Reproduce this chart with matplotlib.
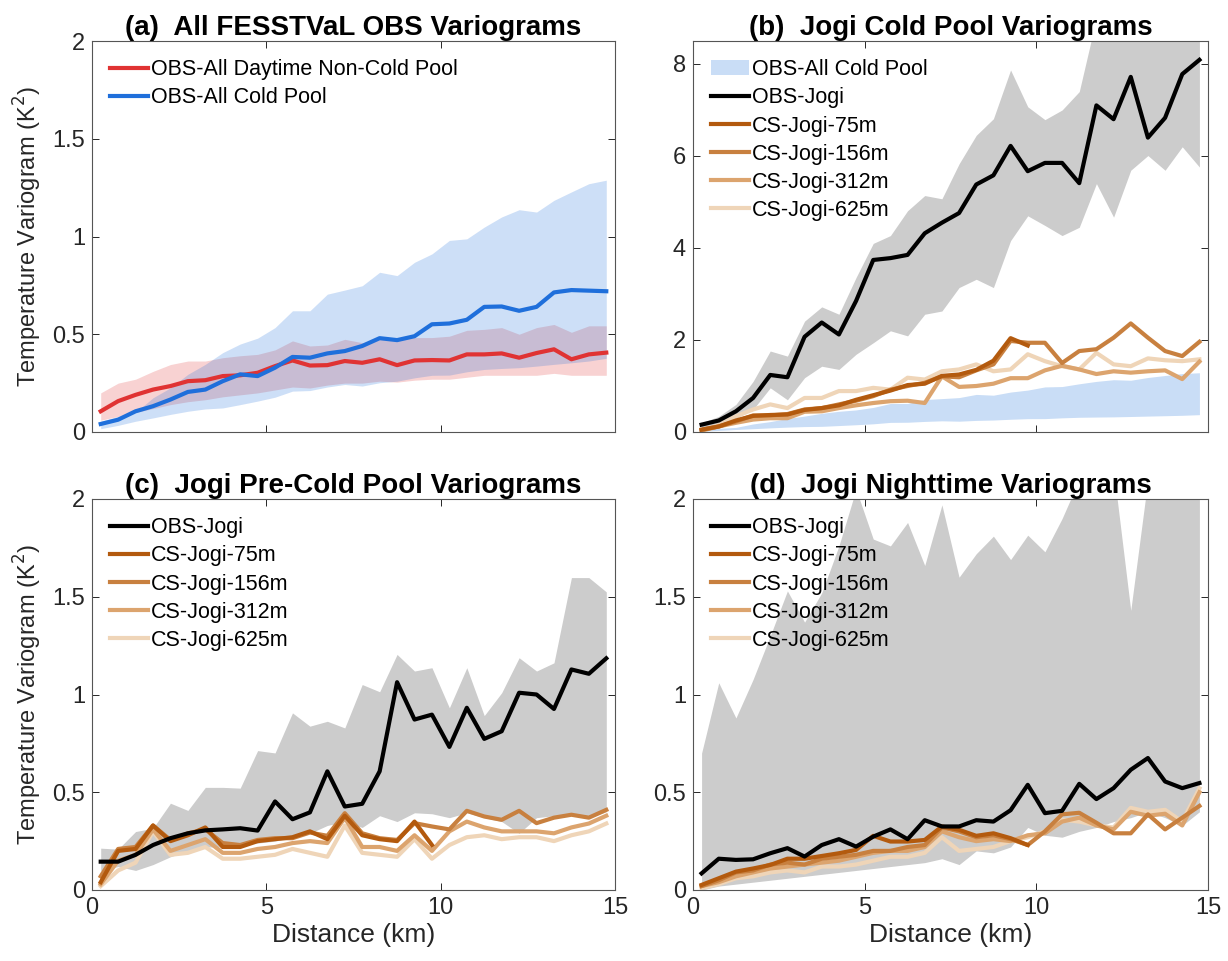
import numpy as np
import matplotlib
matplotlib.use("Agg")
import matplotlib.pyplot as plt
from matplotlib.patches import Patch
from matplotlib.lines import Line2D

plt.rcParams['font.family'] = ['Liberation Sans', 'DejaVu Sans']

# distance bins (km)
distance = [0.25, 0.75, 1.25, 1.75, 2.25, 2.75, 3.25, 3.75, 4.25, 4.75,
            5.25, 5.75, 6.25, 6.75, 7.25, 7.75, 8.25, 8.75, 9.25, 9.75,
            10.25, 10.75, 11.25, 11.75, 12.25, 12.75, 13.25, 13.75, 14.25, 14.75]

# ---------- panel (a) ----------
a_noncp = [0.106, 0.158, 0.19, 0.217, 0.235, 0.26, 0.265, 0.286, 0.29, 0.303,
           0.337, 0.366, 0.34, 0.342, 0.363, 0.354, 0.372, 0.342, 0.366, 0.368,
           0.366, 0.397, 0.397, 0.402, 0.38, 0.404, 0.423, 0.372, 0.397, 0.406]
a_noncp_hi = [0.2, 0.25, 0.27, 0.31, 0.345, 0.363, 0.363, 0.38, 0.39, 0.397,
              0.42, 0.466, 0.44, 0.445, 0.474, 0.457, 0.474, 0.483, 0.483, 0.483,
              0.49, 0.52, 0.525, 0.534, 0.5, 0.534, 0.55, 0.51, 0.543, 0.543]
a_noncp_lo = [0.06, 0.08, 0.1, 0.12, 0.14, 0.155, 0.165, 0.18, 0.19, 0.2,
              0.215, 0.23, 0.225, 0.24, 0.25, 0.25, 0.26, 0.255, 0.265, 0.27,
              0.27, 0.28, 0.29, 0.29, 0.29, 0.29, 0.3, 0.29, 0.29, 0.29]
a_cp = [0.041, 0.063, 0.106, 0.132, 0.166, 0.205, 0.217, 0.26, 0.295, 0.286,
        0.329, 0.384, 0.38, 0.402, 0.414, 0.44, 0.48, 0.47, 0.49, 0.551,
        0.555, 0.574, 0.64, 0.642, 0.62, 0.64, 0.714, 0.726, 0.723, 0.72]
a_cp_hi = [0.055, 0.08, 0.1, 0.175, 0.226, 0.295, 0.346, 0.406, 0.45, 0.48,
           0.534, 0.62, 0.62, 0.705, 0.726, 0.748, 0.817, 0.8, 0.868, 0.911,
           0.98, 0.988, 1.048, 1.1, 1.137, 1.125, 1.185, 1.228, 1.27, 1.288]
a_cp_lo = [0.017, 0.034, 0.055, 0.072, 0.09, 0.106, 0.118, 0.123, 0.14, 0.158,
           0.178, 0.209, 0.212, 0.23, 0.243, 0.235, 0.252, 0.26, 0.277, 0.29,
           0.291, 0.308, 0.32, 0.325, 0.329, 0.337, 0.346, 0.354, 0.363, 0.377]

# ---------- panel (b) ----------
b_obs = [0.16, 0.25, 0.45, 0.74, 1.24, 1.19, 2.07, 2.38, 2.12, 2.85,
         3.74, 3.78, 3.85, 4.32, 4.55, 4.76, 5.38, 5.58, 6.22, 5.67,
         5.85, 5.85, 5.41, 7.1, 6.8, 7.72, 6.4, 6.83, 7.78, 8.09]
b_obs_hi = [0.2, 0.34, 0.6, 1.1, 1.76, 1.65, 2.41, 2.72, 2.56, 3.36,
            4.1, 4.27, 4.81, 5.14, 5.07, 5.83, 6.45, 6.81, 7.87, 7.07,
            6.79, 7.0, 7.4, 9.0, 9.3, 9.6, 9.2, 9.5, 9.8, 10.0]
b_obs_lo = [0.1, 0.16, 0.3, 0.49, 0.96, 0.7, 1.18, 1.43, 1.36, 1.69,
            1.94, 2.2, 2.09, 2.56, 2.63, 3.14, 3.32, 3.14, 4.16, 4.7,
            4.49, 4.27, 4.45, 5.4, 4.67, 5.69, 6.01, 5.69, 6.2, 5.76]
b_cs75 = [0.05, 0.12, 0.25, 0.35, 0.37, 0.38, 0.48, 0.52, 0.58, 0.7,
          0.8, 0.9, 1.02, 1.05, 1.22, 1.25, 1.35, 1.55, 2.04, 1.88]
b_cs156 = [0.05, 0.12, 0.23, 0.36, 0.36, 0.39, 0.49, 0.52, 0.6, 0.68,
           0.78, 0.92, 1.0, 1.07, 1.21, 1.19, 1.34, 1.47, 1.98, 1.94,
           1.94, 1.5, 1.76, 1.8, 2.05, 2.36, 2.05, 1.76, 1.65, 1.96]
b_cs312 = [0.03, 0.12, 0.2, 0.27, 0.3, 0.3, 0.44, 0.45, 0.52, 0.58,
           0.63, 0.67, 0.68, 0.63, 1.21, 0.98, 1.0, 1.05, 1.17, 1.17,
           1.34, 1.44, 1.36, 1.26, 1.32, 1.29, 1.32, 1.34, 1.15, 1.53]
b_cs625 = [0.03, 0.15, 0.34, 0.49, 0.6, 0.52, 0.74, 0.74, 0.89, 0.89,
           0.96, 0.92, 1.18, 1.14, 1.32, 1.36, 1.47, 1.32, 1.36, 1.69,
           1.54, 1.43, 1.36, 1.72, 1.47, 1.43, 1.6, 1.56, 1.54, 1.58]

# ---------- panel (c) ----------
c_obs = [0.145, 0.145, 0.18, 0.23, 0.265, 0.29, 0.305, 0.31, 0.316, 0.304,
         0.453, 0.362, 0.397, 0.607, 0.427, 0.441, 0.607, 1.063, 0.872, 0.897,
         0.732, 0.932, 0.773, 0.812, 1.009, 1.0, 0.926, 1.128, 1.106, 1.185]
c_obs_hi = [0.214, 0.209, 0.299, 0.316, 0.444, 0.407, 0.525, 0.525, 0.521, 0.713,
            0.701, 0.906, 0.838, 0.863, 0.829, 1.051, 1.014, 1.205, 1.12, 1.137,
            0.932, 1.137, 0.892, 1.009, 1.188, 1.12, 1.162, 1.598, 1.598, 1.525]
c_obs_lo = [0.1, 0.12, 0.1, 0.13, 0.17, 0.2, 0.22, 0.22, 0.24, 0.24,
            0.25, 0.27, 0.29, 0.33, 0.35, 0.32, 0.38, 0.35, 0.395, 0.39,
            0.37, 0.395, 0.37, 0.35, 0.29, 0.37, 0.38, 0.38, 0.37, 0.4]
c_cs75 = [0.04, 0.2, 0.21, 0.33, 0.25, 0.28, 0.32, 0.22, 0.22, 0.25,
          0.26, 0.27, 0.3, 0.26, 0.38, 0.28, 0.26, 0.25, 0.35, 0.23]
c_cs156 = [0.07, 0.21, 0.22, 0.33, 0.256, 0.29, 0.31, 0.24, 0.23, 0.256,
           0.265, 0.265, 0.294, 0.277, 0.393, 0.29, 0.265, 0.256, 0.342, 0.325,
           0.31, 0.405, 0.376, 0.359, 0.405, 0.342, 0.37, 0.385, 0.37, 0.41]
c_cs312 = [0.03, 0.15, 0.18, 0.31, 0.2, 0.23, 0.26, 0.19, 0.19, 0.21,
           0.22, 0.24, 0.25, 0.24, 0.37, 0.22, 0.22, 0.2, 0.28, 0.2,
           0.3, 0.35, 0.32, 0.3, 0.3, 0.3, 0.29, 0.32, 0.34, 0.38]
c_cs625 = [0.02, 0.1, 0.14, 0.3, 0.18, 0.19, 0.22, 0.16, 0.16, 0.17,
           0.18, 0.21, 0.19, 0.17, 0.33, 0.19, 0.18, 0.17, 0.26, 0.16,
           0.23, 0.27, 0.28, 0.26, 0.27, 0.27, 0.25, 0.28, 0.3, 0.34]

# ---------- panel (d) ----------
d_obs = [0.085, 0.16, 0.154, 0.157, 0.188, 0.214, 0.171, 0.23, 0.26, 0.222,
         0.273, 0.31, 0.26, 0.357, 0.325, 0.325, 0.357, 0.35, 0.408, 0.538,
         0.393, 0.405, 0.543, 0.465, 0.521, 0.615, 0.675, 0.555, 0.521, 0.547]
d_obs_hi = [0.7, 1.06, 0.88, 1.077, 1.3, 1.53, 1.37, 1.52, 1.76, 2.05,
            1.795, 1.76, 1.88, 1.66, 1.97, 1.6, 1.72, 1.81, 1.69, 1.815,
            1.73, 1.9, 2.1, 2.2, 2.15, 1.43, 2.1, 2.5, 2.6, 2.6]
d_obs_lo = [0.0, 0.02, 0.03, 0.04, 0.05, 0.06, 0.07, 0.08, 0.09, 0.1,
            0.11, 0.12, 0.13, 0.14, 0.16, 0.13, 0.2, 0.19, 0.22, 0.32,
            0.28, 0.27, 0.3, 0.32, 0.35, 0.37, 0.4, 0.37, 0.33, 0.4]
d_cs75 = [0.026, 0.06, 0.094, 0.11, 0.128, 0.16, 0.16, 0.174, 0.188, 0.205,
          0.277, 0.248, 0.248, 0.256, 0.325, 0.308, 0.277, 0.29, 0.265, 0.23]
d_cs156 = [0.02, 0.05, 0.09, 0.1, 0.13, 0.14, 0.13, 0.16, 0.17, 0.18,
           0.2, 0.2, 0.22, 0.23, 0.32, 0.3, 0.27, 0.28, 0.26, 0.23,
           0.3, 0.387, 0.395, 0.344, 0.29, 0.29, 0.387, 0.31, 0.37, 0.43]
d_cs312 = [0.02, 0.04, 0.07, 0.09, 0.11, 0.12, 0.13, 0.14, 0.15, 0.17,
           0.19, 0.2, 0.2, 0.22, 0.3, 0.27, 0.25, 0.26, 0.25, 0.28,
           0.29, 0.35, 0.37, 0.33, 0.31, 0.4, 0.38, 0.39, 0.33, 0.5]
d_cs625 = [0.01, 0.03, 0.06, 0.07, 0.09, 0.1, 0.09, 0.12, 0.12, 0.13,
           0.15, 0.17, 0.17, 0.19, 0.27, 0.2, 0.21, 0.22, 0.25, 0.27,
           0.3, 0.36, 0.35, 0.33, 0.32, 0.42, 0.4, 0.41, 0.35, 0.52]

cs_labels = ['CS-Jogi-75m', 'CS-Jogi-156m', 'CS-Jogi-312m', 'CS-Jogi-625m']
titles = ['(a)  All FESSTVaL OBS Variograms', '(b)  Jogi Cold Pool Variograms',
          '(c)  Jogi Pre-Cold Pool Variograms', '(d)  Jogi Nighttime Variograms']

# ---------- styling ----------
RED = '#E03333'
BLUE = '#1F6FDB'
BLUE_FILL = '#C9DDF6'
GREY_FILL = '#CCCCCC'
CS_COLORS = ['#B35A0E', '#C8803F', '#DCA46E', '#EFD5B8']
LW = 3.0
TXT = '#262626'

fig = plt.figure(figsize=(12.28, 9.61), dpi=100)
W, H = 1228, 961
def pos(x0, x1, y0, y1):
    return [x0 / W, 1 - y1 / H, (x1 - x0) / W, (y1 - y0) / H]

axA = fig.add_axes(pos(92, 615, 41, 432))
axB = fig.add_axes(pos(693, 1208, 41, 432))
axC = fig.add_axes(pos(92, 615, 499, 890))
axD = fig.add_axes(pos(693, 1208, 499, 890))

def style(ax, ylim, yticks, yticklabels, show_x):
    ax.set_xlim(0, 15)
    ax.set_ylim(*ylim)
    ax.set_xticks([0, 5, 10, 15])
    ax.set_yticks(yticks)
    ax.set_yticklabels(yticklabels)
    ax.tick_params(direction='in', top=True, right=True, length=5, width=0.7,
                   labelsize=17, colors=TXT, pad=5)
    for s in ax.spines.values():
        s.set_linewidth(0.8)
        s.set_color('#555555')
    if show_x:
        ax.set_xlabel('Distance (km)', fontsize=19, color=TXT, labelpad=3)
    else:
        ax.tick_params(labelbottom=False)

def leg(ax, handles, labels):
    ax.legend(handles, labels, loc='upper left', frameon=False, fontsize=15.5,
              handlelength=1.75, handletextpad=0.12, labelspacing=0.33,
              borderaxespad=0.3, borderpad=0.55)

ylab = 'Temperature Variogram (K$^2$)'
ytk = [0, 0.5, 1, 1.5, 2]
ytl = ['0', '0.5', '1', '1.5', '2']

# (a)
axA.fill_between(distance, a_noncp_lo, a_noncp_hi, color=RED, alpha=0.22, lw=0)
axA.fill_between(distance, a_cp_lo, a_cp_hi, color=BLUE, alpha=0.22, lw=0)
l1, = axA.plot(distance, a_noncp, color=RED, lw=LW)
l2, = axA.plot(distance, a_cp, color=BLUE, lw=LW)
style(axA, (0, 2), ytk, ytl, False)
axA.set_ylabel(ylab, fontsize=17, color=TXT, labelpad=6)
leg(axA, [l1, l2], ['OBS-All Daytime Non-Cold Pool', 'OBS-All Cold Pool'])

def cs_panel(ax, obs, lo, hi, cs_list, extra_band=None):
    handles, labels = [], []
    if extra_band is not None:
        ax.fill_between(distance, extra_band[0], extra_band[1], color=BLUE_FILL, lw=0)
        handles.append(Patch(facecolor=BLUE_FILL, edgecolor='none'))
        labels.append('OBS-All Cold Pool')
    ax.fill_between(distance, lo, hi, color=GREY_FILL, lw=0)
    for vals, c in zip(reversed(cs_list), reversed(CS_COLORS)):
        ax.plot(distance[:len(vals)], vals, color=c, lw=LW)
    ho, = ax.plot(distance, obs, color='black', lw=LW)
    handles.append(ho)
    labels.append('OBS-Jogi')
    for c, lab in zip(CS_COLORS, cs_labels):
        handles.append(Line2D([], [], color=c, lw=LW))
        labels.append(lab)
    leg(ax, handles, labels)

cs_panel(axB, b_obs, b_obs_lo, b_obs_hi, [b_cs75, b_cs156, b_cs312, b_cs625],
         extra_band=(a_cp_lo, a_cp_hi))
style(axB, (0, 8.5), [0, 2, 4, 6, 8], ['0', '2', '4', '6', '8'], False)

cs_panel(axC, c_obs, c_obs_lo, c_obs_hi, [c_cs75, c_cs156, c_cs312, c_cs625])
style(axC, (0, 2), ytk, ytl, True)
axC.set_ylabel(ylab, fontsize=17, color=TXT, labelpad=6)

cs_panel(axD, d_obs, d_obs_lo, d_obs_hi, [d_cs75, d_cs156, d_cs312, d_cs625])
style(axD, (0, 2), ytk, ytl, True)

for ax, t in zip([axA, axB, axC, axD], titles):
    ax.set_title(t, fontsize=20, fontweight='bold', pad=4)

fig.savefig('out.png', dpi=100)
